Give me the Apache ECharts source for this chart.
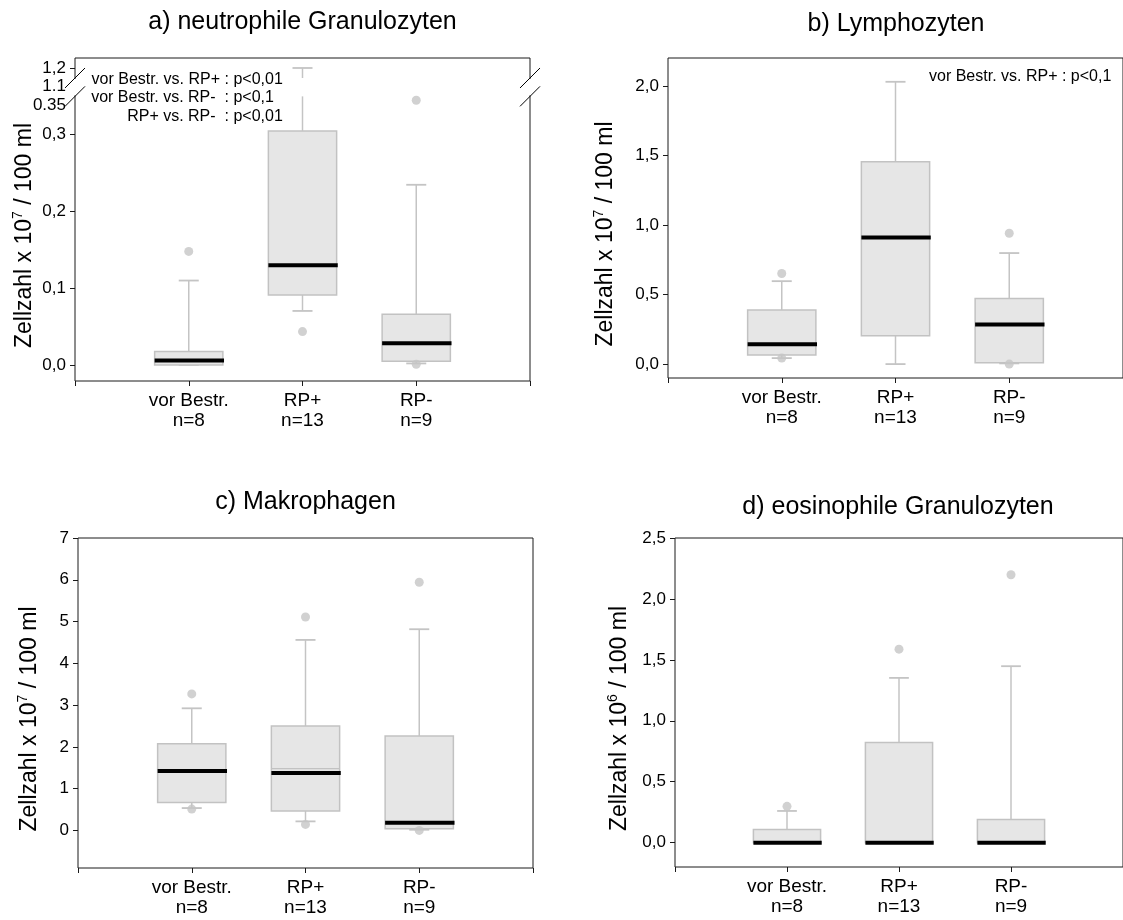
<!DOCTYPE html>
<html><head><meta charset="utf-8">
<script src="https://cdn.jsdelivr.net/npm/echarts@6/dist/echarts.min.js"></script>
<style>html,body{margin:0;padding:0;background:#fff}#c{width:1123px;height:920px}</style>
</head><body><div id="c"></div>
<script>
// ---------- data ----------
const categories = ['vor Bestr.', 'RP+', 'RP-'];
const groupSizes = ['n=8', 'n=13', 'n=9'];

// a) neutrophile Granulozyten  (x 10^7 / 100 ml)
const aLow    = [0.000, 0.0704, 0.002];
const aQ1     = [0.000, 0.0913, 0.0048];
const aMedian = [0.0057, 0.130, 0.0283];
const aQ3     = [0.0174, 0.305, 0.066];
const aHigh   = [0.110, 1.200, 0.2348];
const aOutlierGroup = [0, 1, 2, 2];
const aOutlierValue = [0.148, 0.0435, 0.001, 0.345];
const aTickValues = [0, 0.1, 0.2, 0.3, 1.2];
const aTickLabels = ['0,0', '0,1', '0,2', '0,3', '1,2'];
const aBreakLabels = ['1.1', '0.35'];
const aBreakRange = [0.35, 1.1];
const aCompareLeft  = ['vor Bestr. vs. RP+ ', 'vor Bestr. vs. RP-  ', 'RP+ vs. RP-  '];
const aCompareRight = [': p<0,01', ': p<0,1', ': p<0,01'];

// b) Lymphozyten  (x 10^7 / 100 ml)
const bLow    = [0.043, 0.000, 0.005];
const bQ1     = [0.065, 0.204, 0.0096];
const bMedian = [0.142, 0.909, 0.284];
const bQ3     = [0.389, 1.454, 0.471];
const bHigh   = [0.596, 2.029, 0.798];
const bOutlierGroup = [0, 0, 2, 2];
const bOutlierValue = [0.043, 0.651, 0.000, 0.940];
const bTickValues = [0, 0.5, 1.0, 1.5, 2.0];
const bTickLabels = ['0,0', '0,5', '1,0', '1,5', '2,0'];
const bCompare = 'vor Bestr. vs. RP+ : p<0,1';

// c) Makrophagen  (x 10^7 / 100 ml)
const cLow    = [0.535, 0.216, 0.016];
const cQ1     = [0.671, 0.463, 0.040];
const cMedian = [1.422, 1.374, 0.184];
const cQ3     = [2.077, 2.500, 2.260];
const cHigh   = [2.923, 4.560, 4.816];
const cMean   = [null, 1.48, null];
const cOutlierGroup = [0, 0, 1, 1, 2, 2];
const cOutlierValue = [3.267, 0.51, 5.11, 0.144, 5.94, 0.0];
const cTickValues = [0, 1, 2, 3, 4, 5, 6, 7];
const cTickLabels = ['0', '1', '2', '3', '4', '5', '6', '7'];

// d) eosinophile Granulozyten  (x 10^6 / 100 ml)
const dLow    = [0.000, 0.000, 0.000];
const dQ1     = [0.000, 0.000, 0.000];
const dMedian = [0.000, 0.000, 0.000];
const dQ3     = [0.107, 0.821, 0.189];
const dHigh   = [0.260, 1.352, 1.448];
const dOutlierGroup = [0, 1, 2];
const dOutlierValue = [0.298, 1.588, 2.198];
const dTickValues = [0, 0.5, 1.0, 1.5, 2.0, 2.5];
const dTickLabels = ['0,0', '0,5', '1,0', '1,5', '2,0', '2,5'];

const titles = ['a) neutrophile Granulozyten', 'b) Lymphozyten', 'c) Makrophagen', 'd) eosinophile Granulozyten'];

// ---------- styling / layout ----------
const FONT = '"Liberation Sans", Arial, Helvetica, sans-serif';
const FRAME = '#1a1a1a';
const BOX_FILL = '#e6e6e6';
const BOX_STROKE = '#c2c2c2';
const WHISKER = '#c4c4c4';
const DOT = '#c6c6c6';

// panel a broken axis: lower part linear, upper part compressed
const A_UPPER_START = 0.37394, A_UPPER_SCALE = 0.1304;
function aT(v) {
  if (v <= aBreakRange[0]) return v;
  return A_UPPER_START + (v - aBreakRange[1]) * A_UPPER_SCALE;
}
const A_LABEL_STEP = 0.024;

function rows(low, q1, med, q3, high, mean, tf) {
  const f = tf || (v => v);
  return categories.map((c, i) => [i + 1, f(low[i]), f(q1[i]), f(med[i]), f(q3[i]), f(high[i]),
    (mean && mean[i] != null) ? f(mean[i]) : NaN]);
}
function outliers(g, v, tf) {
  const f = tf || (x => x);
  return g.map((gi, i) => [gi + 1, f(v[i])]);
}

function boxRender(breakLo, breakHi) {
  return function (params, api) {
    const x = api.value(0);
    const lo = api.value(1), q1 = api.value(2), med = api.value(3), q3 = api.value(4), hi = api.value(5), mean = api.value(6);
    const P = (xx, yy) => api.coord([xx, yy]);
    const ch = [];
    const line = (a, b, style) => ch.push({type: 'line', shape: {x1: a[0], y1: a[1], x2: b[0], y2: b[1]}, style});
    const wStyle = {stroke: WHISKER, lineWidth: 1.5};
    function vseg(y1, y2) {
      if (breakLo != null && Math.min(y1, y2) < breakLo && Math.max(y1, y2) > breakHi) {
        const a = Math.min(y1, y2), b = Math.max(y1, y2);
        line(P(x, a), P(x, breakLo), wStyle);
        line(P(x, breakHi), P(x, b), wStyle);
      } else {
        line(P(x, y1), P(x, y2), wStyle);
      }
    }
    vseg(q3, hi);
    vseg(lo, q1);
    const cw = 0.088;
    line(P(x - cw, hi), P(x + cw, hi), {stroke: WHISKER, lineWidth: 1.8});
    line(P(x - cw, lo), P(x + cw, lo), {stroke: WHISKER, lineWidth: 1.8});
    const bw = 0.3;
    const tl = P(x - bw, q3), br = P(x + bw, q1);
    ch.push({type: 'rect', shape: {x: tl[0], y: tl[1], width: br[0] - tl[0], height: br[1] - tl[1]},
      style: {fill: BOX_FILL, stroke: BOX_STROKE, lineWidth: 1.5}});
    if (!isNaN(mean)) line(P(x - bw, mean), P(x + bw, mean), {stroke: BOX_STROKE, lineWidth: 1.2});
    line(P(x - bw, med), P(x + bw + 0.01, med), {stroke: '#000', lineWidth: 4});
    return {type: 'group', children: ch};
  };
}

function breakMarkRender(params, api) {
  const cs = params.coordSys;
  const yHi = api.coord([0, A_UPPER_START])[1];
  const yLo = api.coord([0, aBreakRange[0]])[1];
  const ch = [];
  [cs.x, cs.x + cs.width].forEach(ax => {
    ch.push({type: 'rect', shape: {x: ax - 2, y: yHi + 1, width: 4, height: yLo - yHi - 2}, style: {fill: '#fff'}});
    [yHi, yLo].forEach(yy => ch.push({type: 'line', shape: {x1: ax - 10, y1: yy + 10, x2: ax + 10, y2: yy - 10},
      style: {stroke: '#000', lineWidth: 1}}));
  });
  return {type: 'group', children: ch};
}

const grids = [
  {left: 75, top: 58, width: 455, height: 323},
  {left: 668, top: 58, width: 455, height: 320},
  {left: 78, top: 538, width: 455, height: 330},
  {left: 675, top: 538, width: 455, height: 329}
].map(g => Object.assign({show: true, borderColor: FRAME, borderWidth: 1, backgroundColor: 'transparent'}, g));

function xAxisOpt(i) {
  return {
    type: 'value', gridIndex: i, min: 0, max: 4, interval: 1, position: 'bottom',
    splitLine: {show: false}, axisLine: {show: false, onZero: false},
    axisTick: {show: true, length: 5, lineStyle: {color: FRAME}, customValues: [0, 1, 2, 3, 4]},
    axisLabel: {customValues: [1, 2, 3], margin: 10, color: '#000', fontFamily: FONT, fontSize: 19, lineHeight: 20,
      formatter: v => categories[v - 1] + '\n' + groupSizes[v - 1]}
  };
}
function yAxisOpt(i, min, max, tickVals, labelVals, labelMap, sup, nameGap) {
  return {
    type: 'value', gridIndex: i, min, max, position: 'left',
    splitLine: {show: false}, axisLine: {show: false, onZero: false},
    axisTick: {show: true, length: 5, lineStyle: {color: FRAME}, customValues: tickVals},
    axisLabel: {customValues: labelVals, margin: 9, color: '#000', fontFamily: FONT, fontSize: 17,
      formatter: v => labelMap[Number(v).toFixed(5)] || ''},
    name: '{t|Zellzahl x 10}{s|' + sup + '}{t| / 100 ml}',
    nameLocation: 'middle', nameGap, nameMoveOverlap: false,
    nameTextStyle: {
      padding: [0, 32, 0, 0],
      rich: {
        t: {fontFamily: FONT, fontSize: 23, color: '#000', lineHeight: 28},
        s: {fontFamily: FONT, fontSize: 14, color: '#000', lineHeight: 28, verticalAlign: 'top'}
      }
    }
  };
}
function labelMapOf(vals, labels, tf) {
  const m = {};
  vals.forEach((v, i) => { m[(tf ? tf(v) : v).toFixed(5)] = labels[i]; });
  return m;
}

const aMap = labelMapOf(aTickValues, aTickLabels, aT);
const aTop = aT(aTickValues[aTickValues.length - 1]);
aBreakLabels.forEach((l, k) => { aMap[(aTop - (k + 1) * A_LABEL_STEP).toFixed(5)] = l; });
const aLabelVals = aTickValues.map(aT).concat(aBreakLabels.map((l, k) => aTop - (k + 1) * A_LABEL_STEP));

const yAxes = [
  yAxisOpt(0, -0.0209, 0.4, aTickValues.map(aT), aLabelVals, aMap, '7', 36),
  yAxisOpt(1, -0.1, 2.2, bTickValues, bTickValues, labelMapOf(bTickValues, bTickLabels), '7', 48),
  yAxisOpt(2, -0.9, 7, cTickValues, cTickValues, labelMapOf(cTickValues, cTickLabels), '7', 34),
  yAxisOpt(3, -0.2, 2.5, dTickValues, dTickValues, labelMapOf(dTickValues, dTickLabels), '6', 41)
];

function boxSeries(i, data, bl, bh) {
  return {type: 'custom', xAxisIndex: i, yAxisIndex: i, renderItem: boxRender(bl, bh), data,
    encode: {x: 0, y: [1, 2, 3, 4, 5]}, z: 2, silent: true, clip: false};
}
function dotSeries(i, data) {
  return {type: 'scatter', xAxisIndex: i, yAxisIndex: i, data, symbol: 'circle', symbolSize: 9,
    itemStyle: {color: DOT}, z: 3, silent: true};
}

const series = [
  boxSeries(0, rows(aLow, aQ1, aMedian, aQ3, aHigh, null, aT), aBreakRange[0], A_UPPER_START),
  dotSeries(0, outliers(aOutlierGroup, aOutlierValue, aT)),
  {type: 'custom', xAxisIndex: 0, yAxisIndex: 0, renderItem: breakMarkRender, data: [[0, 0]], z: 4, silent: true, clip: false},
  boxSeries(1, rows(bLow, bQ1, bMedian, bQ3, bHigh, null)),
  dotSeries(1, outliers(bOutlierGroup, bOutlierValue)),
  boxSeries(2, rows(cLow, cQ1, cMedian, cQ3, cHigh, cMean)),
  dotSeries(2, outliers(cOutlierGroup, cOutlierValue)),
  boxSeries(3, rows(dLow, dQ1, dMedian, dQ3, dHigh, null)),
  dotSeries(3, outliers(dOutlierGroup, dOutlierValue))
];

const titlePos = [[302.5, 10], [896, 12], [305.5, 490], [898, 495]];
const title = titles.map((t, i) => ({
  text: t, left: titlePos[i][0], top: titlePos[i][1], textAlign: 'center', padding: 0,
  textStyle: {fontFamily: FONT, fontSize: 25, fontWeight: 'normal', color: '#000'}
}));

const annFont = '16px ' + FONT;
const graphic = [];
aCompareLeft.forEach((s, k) => {
  const y = 79.5 + k * 18.4;
  graphic.push({type: 'text', x: 224.5, y, silent: true, z: 10,
    style: {text: s, font: annFont, fill: '#000', align: 'right', verticalAlign: 'middle'}});
  graphic.push({type: 'text', x: 224.5, y, silent: true, z: 10,
    style: {text: aCompareRight[k], font: annFont, fill: '#000', align: 'left', verticalAlign: 'middle'}});
});
graphic.push({type: 'text', x: 929, y: 77, silent: true, z: 10,
  style: {text: bCompare, font: annFont, fill: '#000', align: 'left', verticalAlign: 'middle'}});

const chart = echarts.init(document.getElementById('c'), null, {renderer: 'canvas'});
chart.setOption({
  animation: false,
  backgroundColor: '#fff',
  title,
  grid: grids,
  xAxis: [0, 1, 2, 3].map(xAxisOpt),
  yAxis: yAxes,
  series,
  graphic
});
</script>
</body></html>
